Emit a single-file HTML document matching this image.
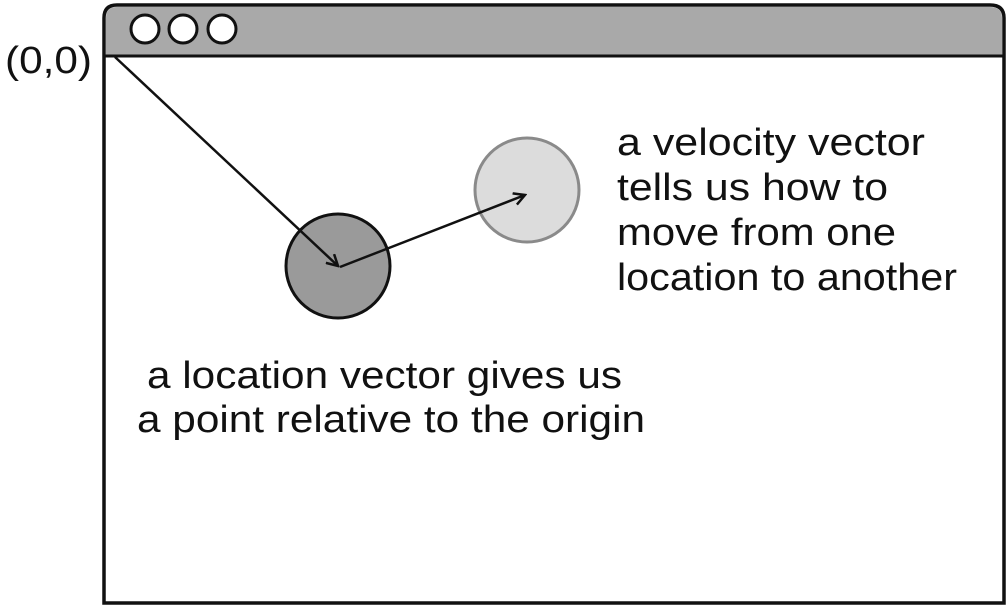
<!DOCTYPE html>
<html><head><meta charset="utf-8"><style>
html,body{margin:0;padding:0;background:#fff;}
svg{display:block;}
text{font-family:"Liberation Sans",sans-serif;font-size:38px;fill:#111;}
</style></head><body>
<svg width="1008" height="606" viewBox="0 0 1008 606">
  <defs>
    <marker id="ah" markerWidth="14" markerHeight="14" refX="12" refY="7" orient="auto" markerUnits="userSpaceOnUse">
      <path d="M1,1 L12,7 L1,13" fill="none" stroke="#111" stroke-width="2.5"/>
    </marker>
  </defs>
  <g>
    <path d="M104,603 L104,18 Q104,5 117,5 L990,5 Q1004,5 1004,18 L1004,603 Z" fill="#fff" stroke="#111" stroke-width="3.5"/>
    <path d="M106,56 L106,18 Q106,7 117,7 L990,7 Q1002,7 1002,18 L1002,56 Z" fill="#a9a9a9"/>
    <line x1="104" y1="56" x2="1004" y2="56" stroke="#111" stroke-width="3"/>
    <circle cx="145" cy="29" r="14" fill="#fff" stroke="#111" stroke-width="3"/>
    <circle cx="183" cy="29" r="14" fill="#fff" stroke="#111" stroke-width="3"/>
    <circle cx="222" cy="29" r="14" fill="#fff" stroke="#111" stroke-width="3"/>
  </g>
  <text x="5" y="73" textLength="87" lengthAdjust="spacingAndGlyphs">(0,0)</text>
  <circle cx="338" cy="266" r="52" fill="#9a9a9a" stroke="#111" stroke-width="3"/>
  <circle cx="527" cy="190" r="52" fill="#dcdcdc" stroke="#8a8a8a" stroke-width="3"/>
  <line x1="115" y1="57" x2="338" y2="266" stroke="#111" stroke-width="2.5" marker-end="url(#ah)"/>
  <line x1="340" y1="267" x2="525" y2="195" stroke="#111" stroke-width="2.5" marker-end="url(#ah)"/>
  <g>
    <text x="617" y="155" textLength="308" lengthAdjust="spacingAndGlyphs">a velocity vector</text>
    <text x="617" y="200" textLength="271" lengthAdjust="spacingAndGlyphs">tells us how to</text>
    <text x="617" y="245" textLength="279" lengthAdjust="spacingAndGlyphs">move from one</text>
    <text x="617" y="290" textLength="340" lengthAdjust="spacingAndGlyphs">location to another</text>
  </g>
  <g>
    <text x="147" y="388" textLength="475" lengthAdjust="spacingAndGlyphs">a location vector gives us</text>
    <text x="137" y="432" textLength="508" lengthAdjust="spacingAndGlyphs">a point relative to the origin</text>
  </g>
</svg>
</body></html>
